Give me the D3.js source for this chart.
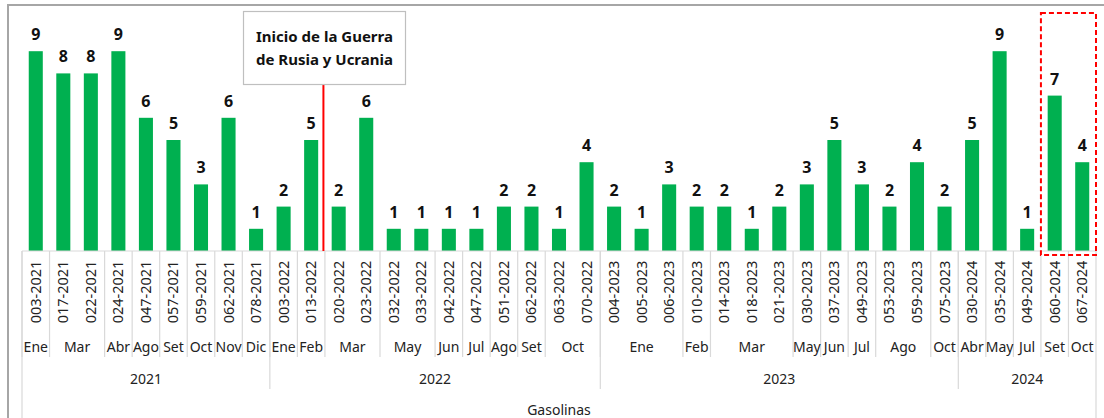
<!DOCTYPE html>
<html lang="es">
<head>
<meta charset="utf-8">
<script src="https://d3js.org/d3.v7.min.js"></script>
<style>
body { margin: 0; background: #fff; }
text { font-family: "Noto Sans", "Open Sans", sans-serif; fill: #222; }
</style>
</head>
<body>
<div id="chart"></div>
<script>
// data
var codes = ["003-2021","017-2021","022-2021","024-2021","047-2021","057-2021","059-2021","062-2021","078-2021",
  "003-2022","013-2022","020-2022","023-2022","032-2022","033-2022","042-2022","047-2022","051-2022","062-2022","063-2022","070-2022",
  "004-2023","005-2023","006-2023","010-2023","014-2023","018-2023","021-2023","030-2023","037-2023","049-2023","053-2023","059-2023","075-2023",
  "030-2024","035-2024","049-2024","060-2024","067-2024"];
var values = [9,8,8,9,6,5,3,6,1, 2,5,2,6,1,1,1,1,2,2,1,4, 2,1,3,2,2,1,2,3,5,3,2,4,2, 5,9,1,7,4];
// month groups: [label, number of bars]
var months = [["Ene",1],["Mar",2],["Abr",1],["Ago",1],["Set",1],["Oct",1],["Nov",1],["Dic",1],
  ["Ene",1],["Feb",1],["Mar",2],["May",2],["Jun",1],["Jul",1],["Ago",1],["Set",1],["Oct",2],
  ["Ene",3],["Feb",1],["Mar",3],["May",1],["Jun",1],["Jul",1],["Ago",2],["Oct",1],
  ["Abr",1],["May",1],["Jul",1],["Set",1],["Oct",1]];
var years = [["2021",9],["2022",12],["2023",13],["2024",5]];
var seriesName = "Gasolinas";
var noteLines = ["Inicio de la Guerra", "de Rusia y Ucrania"];
var noteAfter = "013-2022";
var highlight = ["060-2024","067-2024"];

var W = 1104, H = 418;
var svg = d3.select("#chart").append("svg")
  .attr("width", W).attr("height", H);

// outer chart frame
svg.append("rect")
  .attr("x", 8).attr("y", 5).attr("width", W + 10).attr("height", H + 10)
  .attr("fill", "none").attr("stroke", "#a6a6a6").attr("stroke-width", 2);

var x = d3.scaleBand().domain(codes).range([22, 1096]).paddingInner(0.49).paddingOuter(0.245);
var y = d3.scaleLinear().domain([0, 10]).range([251, 29]);
var step = x.step();
var x0 = 22;

var base = y(0);

// bars
svg.append("g").selectAll("rect")
  .data(values).enter().append("rect")
  .attr("x", function(d, i) { return x(codes[i]); })
  .attr("y", function(d) { return y(d); })
  .attr("width", x.bandwidth())
  .attr("height", function(d) { return base - y(d); })
  .attr("fill", "#00b050");

// value labels
svg.append("g").selectAll("text")
  .data(values).enter().append("text")
  .attr("x", function(d, i) { return x(codes[i]) + x.bandwidth() / 2; })
  .attr("y", function(d) { return y(d) - 11; })
  .attr("text-anchor", "middle")
  .attr("font-size", 16).attr("font-weight", "bold")
  .style("fill", "#111")
  .text(function(d) { return d; });

// baseline
svg.append("line")
  .attr("x1", x0).attr("x2", 1096).attr("y1", base).attr("y2", base)
  .attr("stroke", "#d9d9d9").attr("stroke-width", 1);

var grid = svg.append("g").attr("stroke", "#d9d9d9").attr("stroke-width", 1.2);

// code labels (rotated)
svg.append("g").selectAll("text")
  .data(codes).enter().append("text")
  .attr("transform", function(d) {
    return "translate(" + (x(d) + x.bandwidth() / 2 + 5) + ",292) rotate(-90)";
  })
  .attr("text-anchor", "middle")
  .attr("font-size", 14.5)
  .text(function(d) { return d; });

// month row
var pos = 0;
months.forEach(function(m) {
  var a = x0 + pos * step, b = x0 + (pos + m[1]) * step;
  grid.append("line").attr("x1", a).attr("x2", a).attr("y1", base).attr("y2", 357);
  svg.append("text").attr("x", (a + b) / 2).attr("y", 352)
    .attr("text-anchor", "middle").attr("font-size", 14).text(m[0]);
  pos += m[1];
});

// year row
pos = 0;
years.forEach(function(yy) {
  var a = x0 + pos * step, b = x0 + (pos + yy[1]) * step;
  grid.append("line").attr("x1", a).attr("x2", a).attr("y1", base).attr("y2", pos === 0 ? H : 389);
  svg.append("text").attr("x", (a + b) / 2).attr("y", 384)
    .attr("text-anchor", "middle").attr("font-size", 14).text(yy[0]);
  pos += yy[1];
});
var xEnd = x0 + pos * step;
grid.append("line").attr("x1", xEnd).attr("x2", xEnd).attr("y1", base).attr("y2", H);

// series name
svg.append("text").attr("x", (x0 + xEnd) / 2).attr("y", 415)
  .attr("text-anchor", "middle").attr("font-size", 14).text(seriesName);

// war annotation
var xWar = x(noteAfter) + x.bandwidth() + (step - x.bandwidth()) / 2 - 1.5;
svg.append("line")
  .attr("x1", xWar).attr("x2", xWar).attr("y1", 84).attr("y2", base)
  .attr("stroke", "#ff0000").attr("stroke-width", 2);
svg.append("rect")
  .attr("x", 243.5).attr("y", 11.5).attr("width", 162).attr("height", 73)
  .attr("fill", "#fff").attr("stroke", "#bfbfbf").attr("stroke-width", 1.2);
svg.append("g").selectAll("text")
  .data(noteLines).enter().append("text")
  .attr("x", 324.5)
  .attr("y", function(d, i) { return 42 + i * 23; })
  .attr("text-anchor", "middle")
  .attr("font-size", 15).attr("font-weight", "bold")
  .style("fill", "#111")
  .text(function(d) { return d; });

// highlight box for the latest bars
var hx0 = x(highlight[0]) - (step - x.bandwidth()) / 2;
var hx1 = x(highlight[highlight.length - 1]) + x.bandwidth() + (step - x.bandwidth()) / 2;
svg.append("rect")
  .attr("x", hx0).attr("y", 13).attr("width", hx1 - hx0).attr("height", 242)
  .attr("fill", "none").attr("stroke", "#ff0000").attr("stroke-width", 2)
  .attr("stroke-dasharray", "5,3");
</script>
</body>
</html>
